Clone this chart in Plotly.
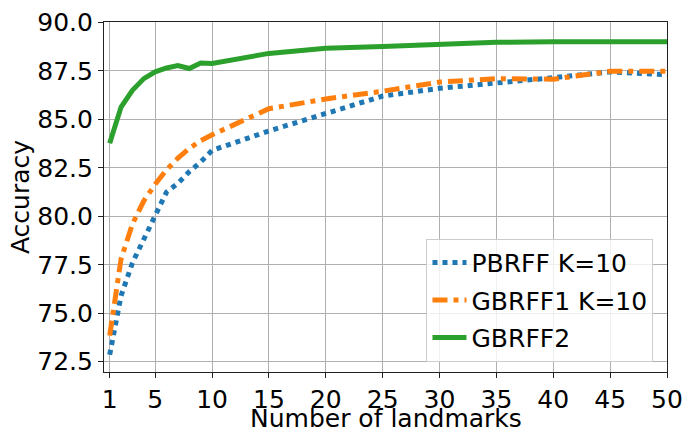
import plotly.graph_objects as go

landmarks = [1, 2, 3, 4, 5, 6, 7, 8, 9, 10, 15, 20, 25, 30, 35, 40, 45, 50]
pbrff = [72.86, 75.9, 77.6, 78.8, 80.1, 81.25, 81.7, 82.3, 82.8, 83.4, 84.4, 85.33, 86.2, 86.6, 86.85, 87.15, 87.45, 87.3]
gbrff1 = [73.85, 77.8, 79.6, 80.8, 81.65, 82.4, 83.0, 83.5, 83.9, 84.2, 85.55, 86.05, 86.45, 86.92, 87.1, 87.07, 87.48, 87.48]
gbrff2 = [83.77, 85.63, 86.5, 87.1, 87.45, 87.65, 87.77, 87.62, 87.9, 87.88, 88.4, 88.67, 88.76, 88.87, 88.97, 89.0, 89.02, 89.0]

x_ticks = [1, 5, 10, 15, 20, 25, 30, 35, 40, 45, 50]
y_ticks = [72.5, 75.0, 77.5, 80.0, 82.5, 85.0, 87.5, 90.0]
y_tick_text = ["72.5", "75.0", "77.5", "80.0", "82.5", "85.0", "87.5", "90.0"]

FONT = "DejaVu Sans"
FS = 25

fig = go.Figure()
fig.add_trace(go.Scatter(x=landmarks, y=pbrff, mode="lines", name="PBRFF K=10",
                         legendgroup="a",
                         line=dict(color="#1f77b4", width=5, dash="5px,5px")))
fig.add_trace(go.Scatter(x=landmarks, y=gbrff1, mode="lines", name="GBRFF1 K=10",
                         legendgroup="b",
                         line=dict(color="#ff7f0e", width=5, dash="15px,6px,5px,6px")))
fig.add_trace(go.Scatter(x=landmarks, y=gbrff2, mode="lines", name="GBRFF2",
                         legendgroup="c",
                         line=dict(color="#2ca02c", width=5)))

fig.add_annotation(
    text="Number of landmarks", xref="paper", yref="paper", x=0.5, y=0,
    xanchor="center", yanchor="top", yshift=-31, borderpad=0, showarrow=False,
    font=dict(family=FONT, size=FS, color="black"),
)

fig.update_layout(
    width=685, height=432,
    margin=dict(l=104, r=18, t=22, b=60, autoexpand=False),
    paper_bgcolor="white", plot_bgcolor="white",
    font=dict(family=FONT, size=FS, color="black"),
    showlegend=True,
    legend=dict(
        x=0.976, y=0.029, xanchor="right", yanchor="bottom",
        bgcolor="rgba(255,255,255,0.8)", bordercolor="#cccccc", borderwidth=1,
        font=dict(family=FONT, size=FS, color="black"),
        tracegroupgap=2, itemwidth=34,
    ),
    xaxis=dict(
        range=[0.5, 50], tickvals=x_ticks, ticktext=[str(v) for v in x_ticks],
        showgrid=True, gridcolor="#b0b0b0", gridwidth=1.1,
        showline=True, linecolor="#222222", linewidth=1.1, mirror=True,
        ticks="outside", ticklen=5, tickcolor="#222222", zeroline=False,
        tickfont=dict(family=FONT, size=FS, color="black"),
    ),
    yaxis=dict(
        range=[71.97, 90.02], tickvals=y_ticks, ticktext=y_tick_text,
        showgrid=True, gridcolor="#b0b0b0", gridwidth=1.1,
        showline=True, linecolor="#222222", linewidth=1.1, mirror=True,
        ticks="outside", ticklen=5, tickcolor="#222222", zeroline=False,
        tickfont=dict(family=FONT, size=FS, color="black"),
        title=dict(text="Accuracy", font=dict(family=FONT, size=FS, color="black"), standoff=0),
    ),
)

fig.write_html("out.html")
